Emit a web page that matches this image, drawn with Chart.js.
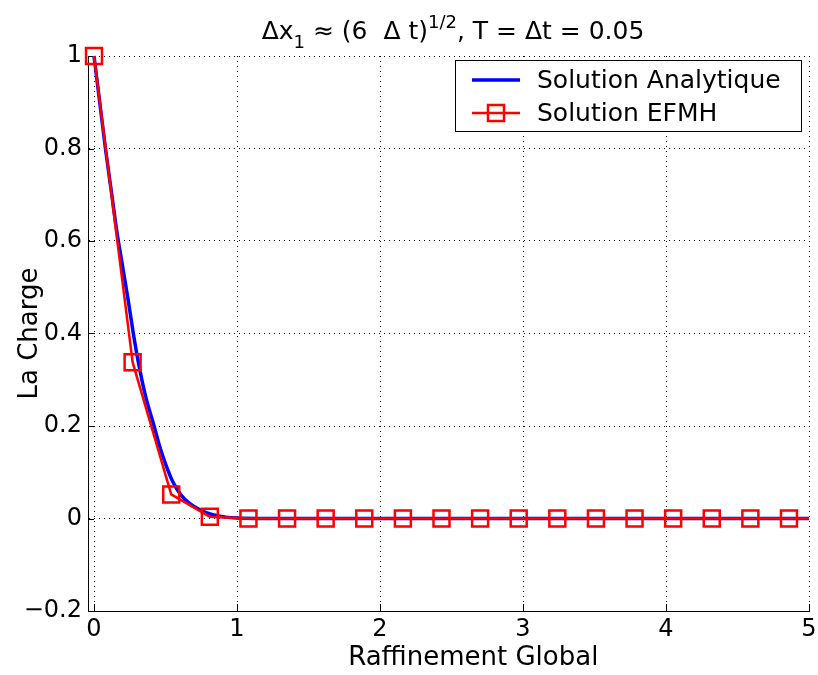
<!DOCTYPE html>
<html>
<head>
<meta charset="utf-8">
<script src="https://cdn.jsdelivr.net/npm/chart.js@4/dist/chart.umd.min.js"></script>
<style>
  body { margin: 0; background: #fff; }
  #wrap { width: 818px; height: 675px; }
</style>
</head>
<body>
<div id="wrap"><canvas id="myChart" width="818" height="675"></canvas></div>
<script>
// values
const analyticX = [0, 0.04, 0.08, 0.12, 0.16, 0.20, 0.24, 0.275, 0.31, 0.36, 0.42, 0.46, 0.50, 0.55, 0.61, 0.67, 0.74, 0.83, 0.92, 1.0, 1.2, 5.0];
const analyticY = [1, 0.9, 0.8, 0.71, 0.62, 0.545, 0.47, 0.4, 0.338, 0.265, 0.2, 0.155, 0.118, 0.08, 0.05, 0.032, 0.019, 0.008, 0.003, 0.001, 0, 0];

const efmhX = [0, 0.27, 0.54, 0.81, 1.08, 1.35, 1.62, 1.89, 2.16, 2.43, 2.70, 2.97, 3.24, 3.51, 3.78, 4.05, 4.32, 4.59, 4.86, 5.0];
const efmhY = [1, 0.338, 0.052, 0.004, 0, 0, 0, 0, 0, 0, 0, 0, 0, 0, 0, 0, 0, 0, 0, 0];

const xTicks = [0, 1, 2, 3, 4, 5];
const xTickLabels = ['0', '1', '2', '3', '4', '5'];
const yTicks = [-0.2, 0, 0.2, 0.4, 0.6, 0.8, 1];
const yTickLabels = ['\u22120.2', '0', '0.2', '0.4', '0.6', '0.8', '1'];

const seriesNames = ['Solution Analytique', 'Solution EFMH'];
const titleParts = [
  { t: '\u0394x', s: 0 },
  { t: '1', s: 1 },
  { t: ' \u2248 (6  \u0394 t)', s: 0 },
  { t: '1/2', s: 2 },
  { t: ', T = \u0394t = 0.05', s: 0 }
];

const FONT = '"DejaVu Sans", "Liberation Sans", Arial, sans-serif';
Chart.defaults.font.family = FONT;
Chart.defaults.color = '#000';

const myChart = document.getElementById('myChart').getContext('2d');

// MATLAB style ticks pointing into the axes
const inwardTicks = {
  id: 'inwardTicks',
  beforeDatasetsDraw(chart) {
    const { ctx, chartArea: a, scales: { x, y } } = chart;
    ctx.save();
    ctx.strokeStyle = '#000';
    ctx.lineWidth = 1;
    ctx.beginPath();
    xTicks.forEach(v => {
      const px = Math.round(x.getPixelForValue(v)) + 0.5;
      ctx.moveTo(px, a.bottom);
      ctx.lineTo(px, a.bottom - 7);
    });
    yTicks.forEach(v => {
      const py = Math.round(y.getPixelForValue(v)) + 0.5;
      ctx.moveTo(a.left, py);
      ctx.lineTo(a.left + 6, py);
    });
    ctx.stroke();
    ctx.restore();
  }
};

const titleText = {
  id: 'titleText',
  afterDraw(chart) {
    const ctx = chart.ctx;
    const big = '25px ' + FONT, small = '18px ' + FONT;
    ctx.save();
    ctx.fillStyle = '#000';
    ctx.textBaseline = 'alphabetic';
    ctx.textAlign = 'left';
    let total = 0;
    titleParts.forEach(p => { ctx.font = p.s ? small : big; total += ctx.measureText(p.t).width; });
    let x = 453 - total / 2;
    const base = 39;
    titleParts.forEach(p => {
      ctx.font = p.s ? small : big;
      const dy = p.s === 1 ? 9 : (p.s === 2 ? -11 : 0);
      ctx.fillText(p.t, x, base + dy);
      x += ctx.measureText(p.t).width;
    });
    ctx.restore();
  }
};

const boxLegend = {
  id: 'boxLegend',
  afterDraw(chart) {
    const ctx = chart.ctx;
    ctx.save();
    ctx.fillStyle = '#fff';
    ctx.fillRect(455, 60, 346, 71);
    ctx.strokeStyle = '#000';
    ctx.lineWidth = 1;
    ctx.strokeRect(455.5, 60.5, 346, 71);
    const rows = [80, 113];
    chart.data.datasets.slice().reverse().forEach((ds, i) => {
      const y = rows[i];
      ctx.strokeStyle = ds.borderColor;
      ctx.lineWidth = ds.borderWidth;
      ctx.beginPath();
      ctx.moveTo(472, y);
      ctx.lineTo(520, y);
      ctx.stroke();
      if (ds.pointStyle === 'rect') {
        ctx.lineWidth = ds.pointBorderWidth;
        ctx.strokeRect(488, y - 8, 16, 16);
      }
      ctx.fillStyle = '#000';
      ctx.font = '25px ' + FONT;
      ctx.textBaseline = 'middle';
      ctx.fillText(ds.label, 537, y + 1);
    });
    ctx.restore();
  }
};

new Chart(myChart, {
  type: 'line',
  data: {
    datasets: [
      {
        label: seriesNames[1],
        data: efmhX.map((x, i) => ({ x: x, y: efmhY[i] })),
        borderColor: '#ff0000',
        borderWidth: 2.5,
        pointStyle: 'rect',
        pointRadius: efmhX.map((x, i) => i < efmhX.length - 1 ? 11.3 : 0),
        pointBorderWidth: 2.5,
        pointBorderColor: '#ff0000',
        pointBackgroundColor: 'rgba(0,0,0,0)',
        tension: 0,
        clip: false,
        order: 0
      },
      {
        label: seriesNames[0],
        data: analyticX.map((x, i) => ({ x: x, y: analyticY[i] })),
        borderColor: '#0000ff',
        borderWidth: 3.5,
        pointRadius: 0,
        cubicInterpolationMode: 'monotone',
        clip: false,
        order: 1
      }
    ]
  },
  options: {
    responsive: false,
    animation: false,
    events: [],
    layout: { autoPadding: false, padding: { top: 56, right: 9, left: 0, bottom: 0 } },
    plugins: {
      legend: { display: false },
      tooltip: { enabled: false },
      title: { display: false }
    },
    scales: {
      x: {
        type: 'linear',
        min: -0.042,
        max: 5,
        afterBuildTicks: s => { s.ticks = xTicks.map(v => ({ value: v })); },
        afterFit: s => { s.height = 64; s.paddingLeft = 0; s.paddingRight = 0; },
        ticks: {
          padding: 4,
          autoSkip: false,
          maxRotation: 0,
          font: { size: 24 },
          callback: v => xTickLabels[xTicks.indexOf(v)]
        },
        grid: { color: '#000', lineWidth: 1, drawTicks: false },
        border: { color: '#000', width: 1, dash: [1, 4] },
        title: {
          display: true,
          text: '      Raffinement Global',
          font: { size: 26 },
          padding: { top: 0, bottom: 1 }
        }
      },
      y: {
        type: 'linear',
        min: -0.2,
        max: 1,
        afterBuildTicks: s => { s.ticks = yTicks.map(v => ({ value: v })); },
        afterFit: s => { s.width = 88; s.paddingTop = 0; s.paddingBottom = 0; },
        ticks: {
          padding: 6,
          autoSkip: false,
          font: { size: 24 },
          callback: v => yTickLabels[yTicks.indexOf(v)]
        },
        grid: { color: '#000', lineWidth: 1, drawTicks: false },
        border: { color: '#000', width: 1, dash: [1, 4] },
        title: {
          display: true,
          text: 'La Charge',
          font: { size: 26 },
          padding: { top: 15, bottom: 0 }
        }
      }
    }
  },
  plugins: [inwardTicks, titleText, boxLegend]
});
</script>
</body>
</html>
